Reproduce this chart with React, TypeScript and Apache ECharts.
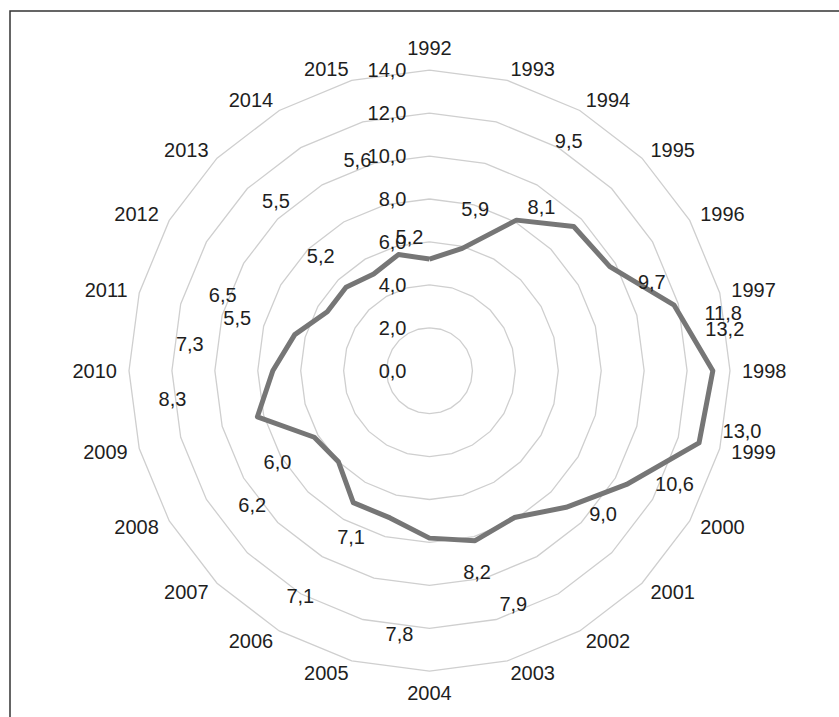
import React, { useEffect, useRef } from 'react';
import * as echarts from 'echarts';

// ---- data ----
const years = [
  '1992', '1993', '1994', '1995', '1996', '1997', '1998', '1999',
  '2000', '2001', '2002', '2003', '2004', '2005', '2006', '2007',
  '2008', '2009', '2010', '2011', '2012', '2013', '2014', '2015',
];
const values = [
  5.2, 5.9, 8.1, 9.5, 9.7, 11.8, 13.2, 13.0,
  10.6, 9.0, 7.9, 8.2, 7.8, 7.1, 7.1, 6.0,
  6.2, 8.3, 7.3, 6.5, 5.5, 5.5, 5.2, 5.6,
];
const axisMin = 0;
const axisMax = 14;
const axisSplits = 7; // ticks 0,0 2,0 ... 14,0

// label placement (styling): pixel offsets of each data label from its point
const labelOffsets: [number, number][] = [
  [-20, -22], [13, -39], [25, -13], [-5, -86], [42, 15], [49, 8],
  [12, -42], [43, -12], [48, 0], [37, 7], [-1, 86], [2, 31],
  [-30, 96], [-39, 19], [-53, 93], [-61, 0], [-62, 68], [-85, -18],
  [-83, -27], [-72, -40], [-90, 6], [-70, -86], [-53, -18], [-41, -95],
];

const fmt = (v: number) => v.toFixed(1).replace('.', ',');
const FONT = '"Liberation Sans", Arial, sans-serif';
const TEXT = '#1e1e1e';
const FS = 20;

export default function App() {
  const ref = useRef<HTMLDivElement>(null);

  useEffect(() => {
    if (!ref.current) return;
    const chart = echarts.init(ref.current, null, { renderer: 'svg' });

    const center = [429.5, 370.7];
    const radius = 300.5;

    // ECharts radar runs counter-clockwise; the reference runs clockwise
    const order = [0, ...years.map((_, i) => i).slice(1).reverse()];

    const indicator = order.map((i, k) => {
      const ind: any = { name: years[i], min: axisMin, max: axisMax };
      if (k === 0) {
        ind.axisLabel = {
          show: true,
          formatter: (v: number) => fmt(v),
          color: TEXT,
          fontSize: FS,
          fontFamily: FONT,
          margin: 23,
        };
      }
      return ind;
    });

    chart.setOption({
      animation: false,
      backgroundColor: '#ffffff',
      radar: {
        center,
        radius,
        shape: 'polygon',
        splitNumber: axisSplits,
        indicator,
        nameGap: 12,
        axisName: { color: TEXT, fontSize: FS, fontFamily: FONT },
        axisLine: { show: false },
        axisTick: { show: false },
        axisLabel: { show: false },
        splitArea: { show: false },
        splitLine: { lineStyle: { color: '#cfcfcf', width: 1.3 } },
      },
      polar: { center, radius },
      angleAxis: {
        type: 'value', min: 0, max: years.length,
        startAngle: 90, clockwise: true, show: false,
      },
      radiusAxis: { type: 'value', min: axisMin, max: axisMax, show: false },
      graphic: [
        {
          type: 'polyline',
          shape: { points: [[10, 717], [10, 11], [839, 11]] },
          style: { stroke: '#333333', lineWidth: 1.5, fill: 'none' },
          silent: true,
        },
      ],
      series: [
        {
          type: 'radar',
          symbol: 'none',
          lineStyle: { color: '#767676', width: 5 },
          data: [{ value: order.map((i) => values[i]) }],
          z: 3,
        },
        {
          type: 'scatter',
          coordinateSystem: 'polar',
          symbol: 'circle',
          symbolSize: 1,
          itemStyle: { color: '#000000', opacity: 0 },
          label: {
            show: true,
            position: 'inside',
            formatter: (p: any) => fmt(p.value[0]),
            color: TEXT,
            opacity: 1,
            textBorderWidth: 0,
            textBorderColor: 'transparent',
            fontSize: FS,
            fontFamily: FONT,
          },
          data: values.map((v, i) => ({
            value: [v, i],
            label: { offset: labelOffsets[i] },
          })),
          z: 4,
        },
      ],
    });

    return () => chart.dispose();
  }, []);

  return (
    <div
      ref={ref}
      style={{ position: 'absolute', left: 0, top: 0, width: 839, height: 717 }}
    />
  );
}
